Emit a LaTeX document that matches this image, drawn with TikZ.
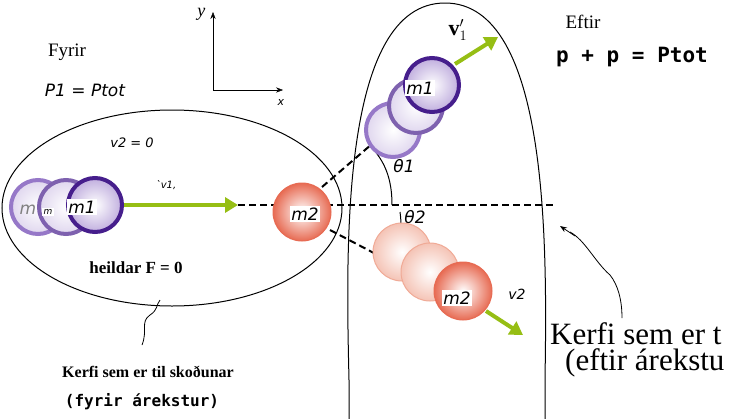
\documentclass[tikz,border=0pt]{standalone}
\usepackage{fontspec}
\setmainfont{Liberation Serif}
\newfontfamily\sansit{DejaVu Sans}
\newfontfamily\monob{DejaVu Sans Mono}
\usetikzlibrary{arrows.meta}
\definecolor{pur}{RGB}{70,30,140}
\definecolor{lpur}{RGB}{150,120,200}
\definecolor{org}{RGB}{225,70,40}
\definecolor{lorg}{RGB}{240,170,150}
\definecolor{grn}{RGB}{150,190,20}
\tikzset{
  ball1/.style={circle,minimum size=54pt,draw=pur,line width=4pt,inner color=white,outer color=lpur!60},
  ghost1/.style={circle,minimum size=54pt,draw=lpur,line width=4pt,inner color=white,outer color=lpur!30},
  ball2/.style={circle,minimum size=58pt,draw=org!80,line width=1pt,inner color=white,outer color=org!80},
  ghost2/.style={circle,minimum size=58pt,draw=lorg,line width=1pt,inner color=white,outer color=lorg!70},
  lab/.style={fill=white,inner sep=1.5pt,font=\sansit\itshape\fontsize{17}{17}\selectfont},
  varrow/.style={grn,line width=4pt,-{Triangle[length=13pt,width=15pt]}},
  dsh/.style={line width=2pt,dash pattern=on 7pt off 4pt},
  sq/.style={line width=0.8pt},
}
\begin{document}
\begin{tikzpicture}[x=1pt,y=-1pt]
\useasboundingbox (0,0) rectangle (731,418);
\clip (0,0) rectangle (731,418);
% systems
\draw[line width=1pt] (172,208) ellipse [x radius=170,y radius=98];
\draw[line width=1pt] (349,430) -- (349,380) .. controls (346,250) and (340,3) .. (445,3) .. controls (550,3) and (547,250) .. (545,380) -- (545,430);
% axes
\coordinate (o) at (213,90);
\draw[-{Stealth[length=7pt]}] (o) -- (213,12) node[pos=1,left=4pt,yshift=-2pt] {\fontsize{18}{18}\selectfont\itshape y};
\draw[-{Stealth[length=7pt]}] (o) -- (283,90) node[pos=1,below=6pt,xshift=-2pt] {\sansit\itshape\fontsize{11}{11}\selectfont x};
% texts
\node (fyrir) at (67,52) {\fontsize{19}{19}\selectfont Fyrir};
\node (p1) at (85,90) {\sansit\itshape\fontsize{17}{17}\selectfont P1 = Ptot};
\node (v20) at (132,143) {\sansit\itshape\fontsize{13}{13}\selectfont v2 = 0};
\node (hf) at (136,268) {\bfseries\fontsize{17}{17}\selectfont heildar F = 0};
\node (k1) at (148,372) {\bfseries\fontsize{16}{16}\selectfont Kerfi sem er til skoðunar};
\node (k2) at (142,402) {\monob\bfseries\fontsize{16}{16}\selectfont (fyrir árekstur)};
\node (eftir) at (583,22) {\fontsize{19}{19}\selectfont Eftir};
\node (pp) at (632,57) {\monob\bfseries\fontsize{21}{21}\selectfont p + p = Ptot};
\node[anchor=west,inner sep=0pt] (k3) at (550,334) {\fontsize{31}{31}\selectfont Kerfi sem er t};
\node[anchor=west,inner sep=0pt] (k4) at (565,363) {\fontsize{31}{31}\selectfont (eftir árekstu};
% squiggles
\draw[sq] (142,345) .. controls (148,330) and (140,322) .. (150,315) .. controls (158,310) and (156,305) .. (160,300);
\draw[sq] (622,318) .. controls (622,300) and (618,285) .. (610,275) .. controls (595,262) and (585,240) .. (570,232);
\draw[-{Stealth[length=7pt]},sq] (575,236) -- (560,226);
% dashed lines
\coordinate (d0) at (238,205);
\coordinate (d1) at (555,205);
\draw[dsh] (d0) -- (d1);
\draw[dsh] (322,187) -- (437,88);
\draw[dsh] (330,230) -- (452,294);
% angles
\draw[line width=1pt] (372,148) .. controls (388,165) and (392,185) .. (392,205);
\draw[line width=1pt] (400,212) .. controls (403,232) and (398,250) .. (390,258);
\node (t1) at (404,166) {\sansit\itshape\fontsize{17}{17}\selectfont θ1};
\node (t2) at (415,217) {\sansit\itshape\fontsize{17}{17}\selectfont θ2};
% before balls
\node[ghost1] (g1) at (38,207) {};
\node[lab,fill=none,text=gray] at (28,210) {m};
\node[ghost1,draw=pur!70] (g2) at (66,207) {};
\node[lab,font=\sansit\itshape\fontsize{9}{9}\selectfont] at (48,212) {m};
\node[ball1] (m1a) at (95,205) {};
\node[lab] at (82,207) {m1};
\draw[varrow] (m1a.east) -- (d0);
\node (v1) at (166,185) {\sansit\itshape\fontsize{10}{10}\selectfont `v1,};
\node[ball2] (m2a) at (302,212) {};
\node[lab] at (305,214) {m2};
% after m1
\node[ghost1] at (393,130) {};
\node[ghost1,draw=pur!70] at (416,106) {};
\node[ball1] (m1b) at (432,85) {};
\node[lab] at (420,88) {m1};
\coordinate (v1e) at (498,37);
\draw[varrow] (455,64) -- (v1e);
\node (v1p) at (458,30) {\fontsize{22}{22}\selectfont$\mathbf{v}_1^{\prime}$};
% after m2
\node[ghost2] at (402,252) {};
\node[ghost2] at (430,272) {};
\node[ball2] (m2b) at (463,291) {};
\node[lab] at (457,298) {m2};
\coordinate (v2e) at (523,335);
\draw[varrow] (486,311) -- (v2e);
\node (v2) at (517,294) {\sansit\itshape\fontsize{14}{14}\selectfont v2};
\end{tikzpicture}
\end{document}
